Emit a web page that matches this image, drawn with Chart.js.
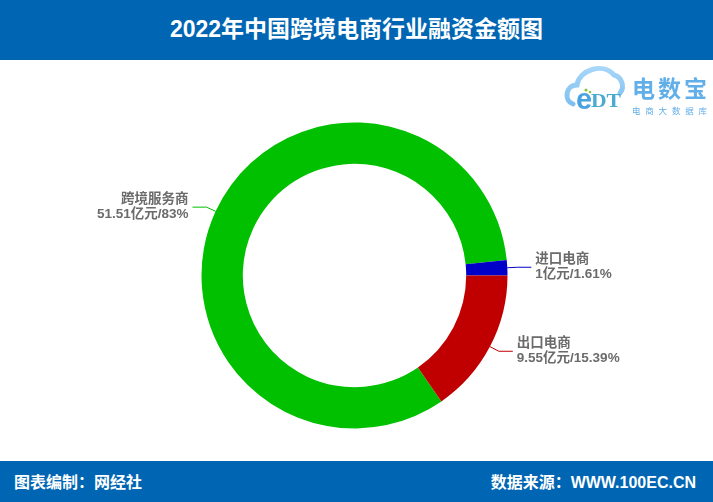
<!DOCTYPE html>
<html>
<head>
<meta charset="utf-8">
<script src="https://cdn.jsdelivr.net/npm/chart.js@4/dist/chart.umd.min.js"></script>
<style>
  html, body { margin: 0; padding: 0; background: #fff; }
  #page { position: relative; width: 713px; height: 502px; overflow: hidden; background: #fff;
          font-family: "Liberation Sans", "Noto Sans CJK SC", sans-serif; }
  #header { position: absolute; left: 0; top: 0; width: 713px; height: 60px; background: #0066b3;
            color: #fff; font-weight: bold; font-size: 23px; text-align: center; line-height: 58px; }
  #footer { position: absolute; left: 0; top: 461px; width: 713px; height: 41px; background: #0066b3;
            color: #fff; font-weight: bold; font-size: 16px; line-height: 43px; }
  #footer .l { position: absolute; left: 14px; }
  #footer .r { position: absolute; right: 17px; }
  #chart { position: absolute; left: 0; top: 60px; }
  #logo { position: absolute; left: 556px; top: 62px; }
</style>
</head>
<body>
<div id="page">
  <div id="header">2022年中国跨境电商行业融资金额图</div>
  <canvas id="chart" width="713" height="401"></canvas>
  <svg id="logo" width="157" height="56" viewBox="0 0 157 56">
    <defs>
      <linearGradient id="cg" x1="0" y1="0" x2="0" y2="1">
        <stop offset="0" stop-color="#a6d6f8"/>
        <stop offset="1" stop-color="#7fc0f0"/>
      </linearGradient>
    </defs>
    <path d="M17 42 C8 39 9 23 21 23 C23 8 47 0 58 13 C66 15 69 25 64 31"
          fill="none" stroke="url(#cg)" stroke-width="5" stroke-linecap="round"/>
    <text x="20" y="47" font-family="Liberation Sans, sans-serif" font-size="29" font-weight="bold" fill="#4aa3e0">e</text>
    <text x="35" y="45" font-family="Liberation Serif, serif" font-size="19" font-weight="bold" fill="#4aaad2" textLength="30" lengthAdjust="spacingAndGlyphs">DT</text>
    <circle cx="30" cy="28" r="1.6" fill="#8cc63f"/>
    <circle cx="34" cy="30" r="1.3" fill="#8cc63f"/>
    <text x="76" y="35" font-family="Noto Sans CJK SC, sans-serif" font-size="23" font-weight="bold" fill="#62aee8" textLength="75" lengthAdjust="spacing">电数宝</text>
    <text x="76" y="52" font-family="Noto Sans CJK SC, sans-serif" font-size="8.5" fill="#62aee8" textLength="75" lengthAdjust="spacing">电商大数据库</text>
  </svg>
  <div id="footer"><span class="l">图表编制：网经社</span><span class="r">数据来源：WWW.100EC.CN</span></div>
</div>
<script>
// Financing amount by segment, 2022 (亿元)
const categories = ['跨境服务商', '进口电商', '出口电商'];
const amounts = [51.51, 1, 9.55];
const shares = ['83%', '1.61%', '15.39%'];
const sliceColors = ['#00c000', '#0000c8', '#c00000'];

// Leader lines and two-line labels next to each slice
const sliceLabels = {
  id: 'sliceLabels',
  afterDatasetsDraw(chart) {
    const ctx = chart.ctx;
    const meta = chart.getDatasetMeta(0);
    meta.data.forEach((arc, i) => {
      const p = arc.getProps(['x', 'y', 'startAngle', 'endAngle', 'outerRadius']);
      const mid = (p.startAngle + p.endAngle) / 2;
      const cos = Math.cos(mid), sin = Math.sin(mid);
      const x0 = p.x + cos * p.outerRadius, y0 = p.y + sin * p.outerRadius;
      const x1 = p.x + cos * (p.outerRadius + 10), y1 = p.y + sin * (p.outerRadius + 10);
      const right = cos >= 0;
      const x2 = x1 + (right ? 14 : -14);
      ctx.save();
      ctx.strokeStyle = sliceColors[i];
      ctx.lineWidth = 1;
      ctx.beginPath();
      ctx.moveTo(x0, y0);
      ctx.lineTo(x1, y1);
      ctx.lineTo(x2, y1);
      ctx.stroke();
      ctx.fillStyle = '#6b6b6b';
      ctx.font = 'bold 13.5px "Liberation Sans", "Noto Sans CJK SC", sans-serif';
      ctx.textAlign = right ? 'left' : 'right';
      ctx.textBaseline = 'middle';
      const tx = x2 + (right ? 4 : -4);
      ctx.fillText(categories[i], tx, y1 - 8);
      ctx.fillText(amounts[i] + '亿元/' + shares[i], tx, y1 + 7);
      ctx.restore();
    });
  }
};

new Chart(document.getElementById('chart'), {
  type: 'doughnut',
  data: {
    labels: categories,
    datasets: [{
      data: amounts,
      backgroundColor: sliceColors,
      borderWidth: 0,
      hoverOffset: 0
    }]
  },
  options: {
    responsive: false,
    animation: false,
    devicePixelRatio: 1,
    cutout: '73%',
    rotation: 145.4,
    layout: { padding: { top: 62.5, bottom: 32.5, left: 0, right: 4 } },
    plugins: {
      legend: { display: false },
      tooltip: { enabled: false }
    }
  },
  plugins: [sliceLabels]
});
</script>
</body>
</html>
